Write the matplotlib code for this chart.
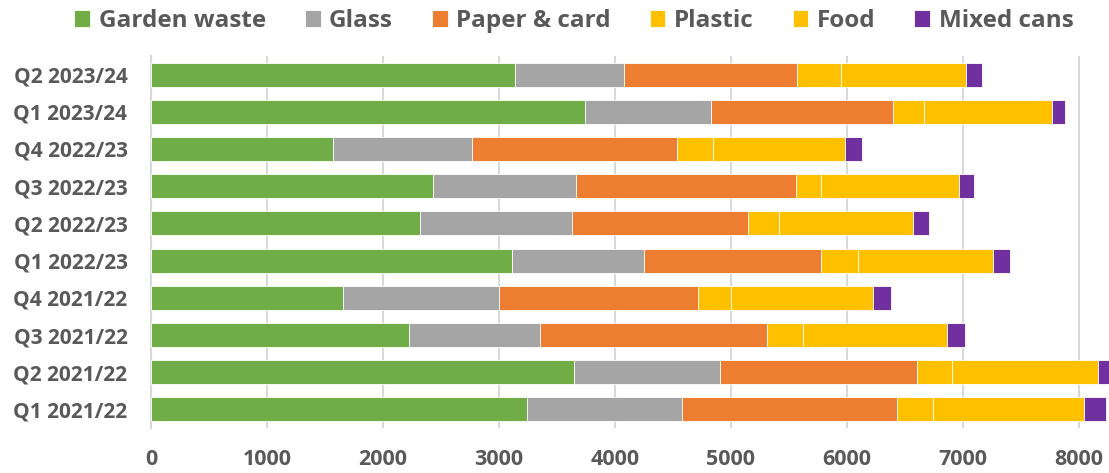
import matplotlib
matplotlib.use("Agg")
import matplotlib.pyplot as plt
import numpy as np

quarters = ["Q2 2023/24", "Q1 2023/24", "Q4 2022/23", "Q3 2022/23", "Q2 2022/23",
            "Q1 2022/23", "Q4 2021/22", "Q3 2021/22", "Q2 2021/22", "Q1 2021/22"]
garden = [3135, 3741, 1572, 2434, 2322, 3115, 1658, 2224, 3647, 3244]
glass = [943, 1084, 1198, 1227, 1304, 1138, 1339, 1129, 1255, 1331]
paper = [1488, 1574, 1762, 1902, 1523, 1526, 1721, 1957, 1704, 1856]
plastic = [379, 268, 310, 216, 262, 313, 279, 308, 302, 308]
food = [1078, 1103, 1144, 1189, 1161, 1169, 1224, 1247, 1258, 1304]
cans = [138, 107, 143, 127, 132, 144, 161, 149, 150, 187]

series = [("Garden waste", garden, "#70AD47"),
          ("Glass", glass, "#A5A5A5"),
          ("Paper & card", paper, "#ED7D31"),
          ("Plastic", plastic, "#FFC000"),
          ("Food", food, "#FFC000"),
          ("Mixed cans", cans, "#7030A0")]

plt.rcParams['font.family'] = ['Open Sans', 'DejaVu Sans']
plt.rcParams['font.weight'] = 'bold'
txt = "#595959"

fig = plt.figure(figsize=(11.09, 4.73), dpi=100)
ax = fig.add_axes([151 / 1109, 1 - 428 / 473, 1 - 151 / 1109, 372 / 473])

y = np.arange(len(quarters))
left = np.zeros(len(quarters))
for name, vals, col in series:
    ax.barh(y, vals, left=left, height=0.64, color=col, edgecolor="white",
            linewidth=0.6, label=name, zorder=3)
    left += np.array(vals)

ax.set_ylim(len(quarters) - 0.5, -0.5)
ax.set_xlim(0, 8259)
ax.set_yticks(y)
ax.set_yticklabels(quarters, fontsize=15, fontweight="bold", color=txt)
ax.set_xticks(np.arange(0, 8001, 1000))
ax.tick_params(axis="x", length=0, pad=15, labelsize=15.5, labelcolor=txt)
ax.tick_params(axis="y", length=0, pad=17)
for lab in ax.get_xticklabels():
    lab.set_fontweight("bold")

ax.grid(axis="x", color="#D9D9D9", linewidth=1.5, zorder=0)
for s in ["top", "right", "bottom"]:
    ax.spines[s].set_visible(False)
ax.spines["left"].set_color("#D9D9D9")
ax.spines["left"].set_linewidth(1.5)

leg = fig.legend(loc="center", bbox_to_anchor=(574 / 1109, 1 - 21 / 473), ncol=6,
                 frameon=False, handlelength=0.65, handleheight=0.65,
                 handletextpad=0.35, columnspacing=1.6,
                 prop={"size": 17.5, "weight": "bold"})
for t in leg.get_texts():
    t.set_color(txt)

fig.savefig("out.png", dpi=100)
